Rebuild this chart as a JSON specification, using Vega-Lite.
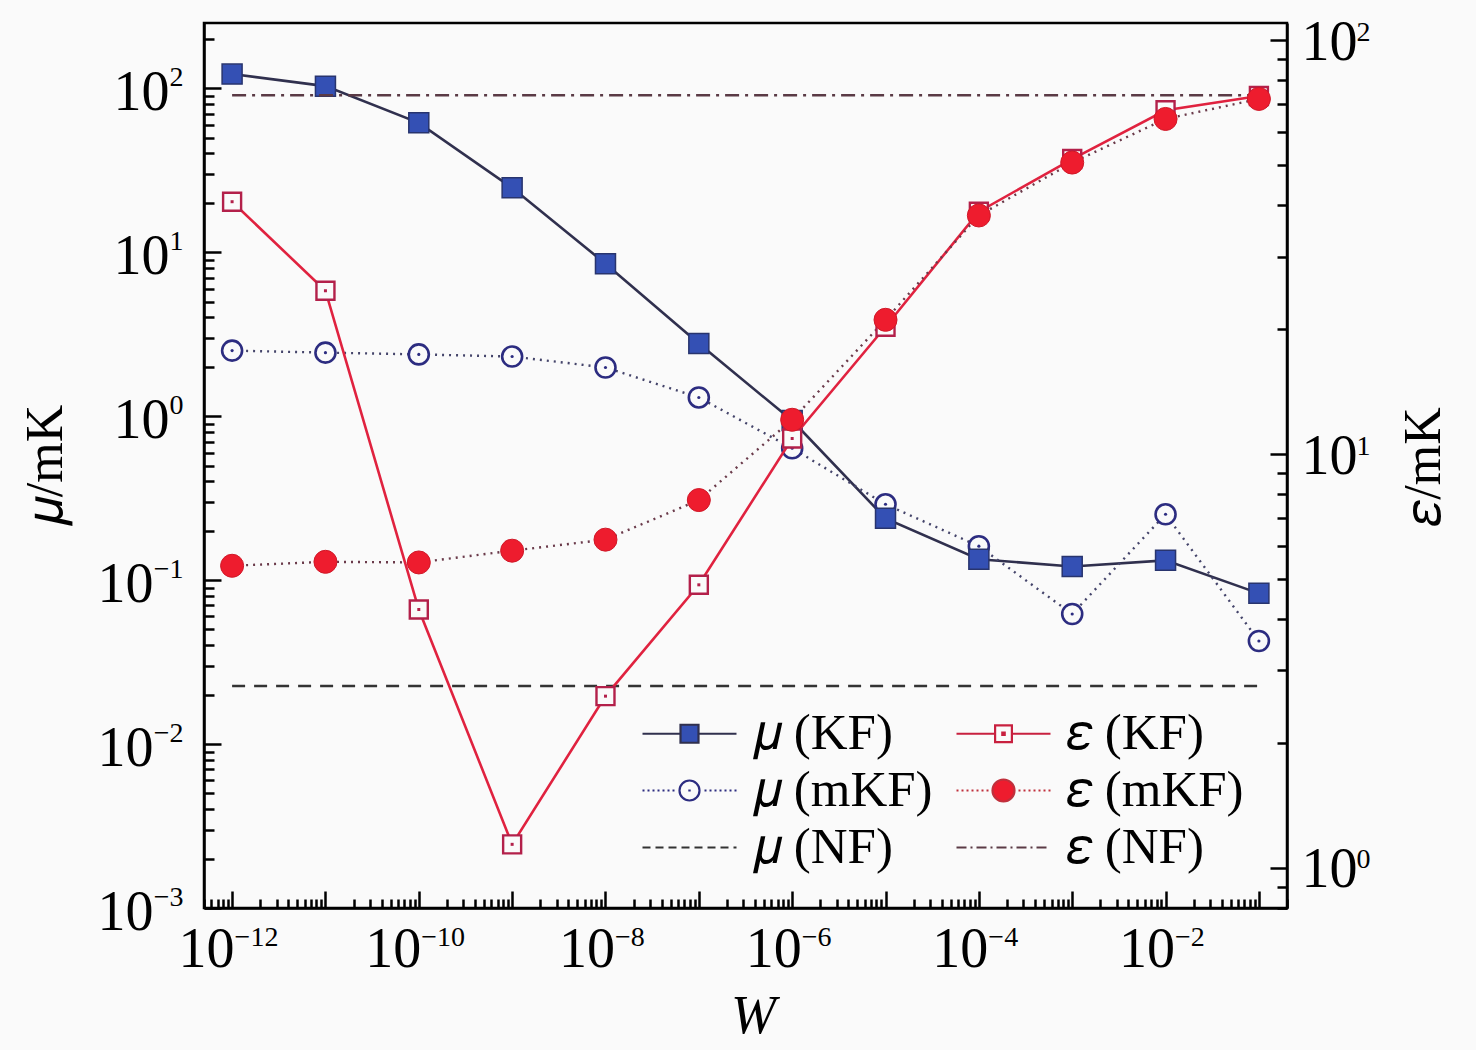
{
  "$schema": "https://vega.github.io/schema/vega-lite/v6.json",
  "description": "mu and epsilon vs W, KF / mKF / NF, dual log axes",
  "autosize": "none",
  "width": 1083,
  "height": 885,
  "padding": {"left": 204, "top": 23, "right": 189, "bottom": 142},
  "background": "#fafafa",
  "config": {
    "view": {"stroke": "black", "strokeWidth": 2.5},
    "font": "Liberation Serif, DejaVu Serif",
    "axis": {
      "grid": false,
      "domainColor": "black",
      "domainWidth": 2.5,
      "tickColor": "black",
      "tickWidth": 2.5,
      "labelFont": "Liberation Serif, DejaVu Serif",
      "labelFontSize": 56,
      "labelColor": "black",
      "labelOverlap": false,
      "labelFlush": false,
      "labelBound": false,
      "titleFont": "Liberation Serif, DejaVu Serif",
      "titleFontSize": 52,
      "titleFontWeight": "normal",
      "titleColor": "black"
    }
  },
  "datasets": {
    "mu": [
      {"W": 1e-12, "s": "KF", "v": 122},
      {"W": 1e-11, "s": "KF", "v": 103},
      {"W": 1e-10, "s": "KF", "v": 61.5},
      {"W": 1e-9, "s": "KF", "v": 24.7},
      {"W": 1e-8, "s": "KF", "v": 8.51},
      {"W": 1e-7, "s": "KF", "v": 2.77},
      {"W": 1e-6, "s": "KF", "v": 0.94},
      {"W": 1e-5, "s": "KF", "v": 0.238},
      {"W": 1e-4, "s": "KF", "v": 0.134},
      {"W": 1e-3, "s": "KF", "v": 0.121},
      {"W": 1e-2, "s": "KF", "v": 0.132},
      {"W": 1e-1, "s": "KF", "v": 0.083},
      {"W": 1e-12, "s": "mKF", "v": 2.51},
      {"W": 1e-11, "s": "mKF", "v": 2.44},
      {"W": 1e-10, "s": "mKF", "v": 2.38},
      {"W": 1e-9, "s": "mKF", "v": 2.31},
      {"W": 1e-8, "s": "mKF", "v": 1.98},
      {"W": 1e-7, "s": "mKF", "v": 1.3},
      {"W": 1e-6, "s": "mKF", "v": 0.637},
      {"W": 1e-5, "s": "mKF", "v": 0.29},
      {"W": 1e-4, "s": "mKF", "v": 0.161},
      {"W": 1e-3, "s": "mKF", "v": 0.0621},
      {"W": 1e-2, "s": "mKF", "v": 0.252},
      {"W": 1e-1, "s": "mKF", "v": 0.0425}
    ],
    "eps": [
      {"W": 1e-12, "s": "KF", "v": 40.7},
      {"W": 1e-11, "s": "KF", "v": 24.8},
      {"W": 1e-10, "s": "KF", "v": 4.21},
      {"W": 1e-9, "s": "KF", "v": 1.14},
      {"W": 1e-8, "s": "KF", "v": 2.6},
      {"W": 1e-7, "s": "KF", "v": 4.83},
      {"W": 1e-6, "s": "KF", "v": 10.9},
      {"W": 1e-5, "s": "KF", "v": 20.3},
      {"W": 1e-4, "s": "KF", "v": 38.5},
      {"W": 1e-3, "s": "KF", "v": 51.6},
      {"W": 1e-2, "s": "KF", "v": 67.7},
      {"W": 1e-1, "s": "KF", "v": 73.3},
      {"W": 1e-12, "s": "mKF", "v": 5.37},
      {"W": 1e-11, "s": "mKF", "v": 5.49},
      {"W": 1e-10, "s": "mKF", "v": 5.47},
      {"W": 1e-9, "s": "mKF", "v": 5.84},
      {"W": 1e-8, "s": "mKF", "v": 6.21},
      {"W": 1e-7, "s": "mKF", "v": 7.74},
      {"W": 1e-6, "s": "mKF", "v": 12.1},
      {"W": 1e-5, "s": "mKF", "v": 21.1},
      {"W": 1e-4, "s": "mKF", "v": 37.7},
      {"W": 1e-3, "s": "mKF", "v": 50.6},
      {"W": 1e-2, "s": "mKF", "v": 64.5},
      {"W": 1e-1, "s": "mKF", "v": 72.1}
    ],
    "nf": [
      {"W": 1e-12, "mu": 0.0226, "eps": 73.6},
      {"W": 1e-1, "mu": 0.0226, "eps": 73.6}
    ],
    "legend": [
      {"lab": "𝜇 (KF)"},
      {"lab": "𝜇 (mKF)"},
      {"lab": "𝜇 (NF)"},
      {"lab": "𝜀 (KF)"},
      {"lab": "𝜀 (mKF)"},
      {"lab": "𝜀 (NF)"}
    ]
  },
  "layer": [
    {
      "encoding": {
        "x": {
          "field": "W",
          "type": "quantitative",
          "scale": {"type": "log", "domain": [5e-13, 0.2], "nice": false},
          "axis": {
            "orient": "bottom",
            "title": "W",
            "titleFontStyle": "italic",
            "titleFontSize": 54,
            "titleX": 549,
            "titleY": 108,
            "titleAlign": "center",
            "titleBaseline": "middle",
            "values": [5e-13, 6e-13, 7e-13, 8e-13, 9e-13,
              1e-12, 2e-12, 3e-12, 4e-12, 5e-12, 6e-12, 7e-12, 8e-12, 9e-12,
              1e-11, 2e-11, 3e-11, 4e-11, 5e-11, 6e-11, 7e-11, 8e-11, 9e-11,
              1e-10, 2e-10, 3e-10, 4e-10, 5e-10, 6e-10, 7e-10, 8e-10, 9e-10,
              1e-9, 2e-9, 3e-9, 4e-9, 5e-9, 6e-9, 7e-9, 8e-9, 9e-9,
              1e-8, 2e-8, 3e-8, 4e-8, 5e-8, 6e-8, 7e-8, 8e-8, 9e-8,
              1e-7, 2e-7, 3e-7, 4e-7, 5e-7, 6e-7, 7e-7, 8e-7, 9e-7,
              1e-6, 2e-6, 3e-6, 4e-6, 5e-6, 6e-6, 7e-6, 8e-6, 9e-6,
              1e-5, 2e-5, 3e-5, 4e-5, 5e-5, 6e-5, 7e-5, 8e-5, 9e-5,
              1e-4, 2e-4, 3e-4, 4e-4, 5e-4, 6e-4, 7e-4, 8e-4, 9e-4,
              1e-3, 2e-3, 3e-3, 4e-3, 5e-3, 6e-3, 7e-3, 8e-3, 9e-3,
              1e-2, 2e-2, 3e-2, 4e-2, 5e-2, 6e-2, 7e-2, 8e-2, 9e-2,
              1e-1, 2e-1],
            "labelExpr": "abs(log(datum.value)/LN10-round(log(datum.value)/LN10))<0.001 && round(log(datum.value)/LN10)%2==0 ? '10' : ''",
            "labelAlign": "right",
            "labelOffset": {"condition": {"test": "datum.value < 5e-10", "value": 2}, "value": 9},
            "tickSize": {"condition": {"test": "abs(log(datum.value)/LN10-round(log(datum.value)/LN10))<0.001", "value": -17}, "value": -9},
            "labelPadding": 31
          }
        },
        "y": {
          "field": "v",
          "type": "quantitative",
          "scale": {"type": "log", "domain": [0.001, 250], "nice": false},
          "axis": null
        }
      },
      "resolve": {"axis": {"y": "independent"}},
      "layer": [
        {
          "data": {"name": "mu"},
          "transform": [{"filter": "datum.s == 'KF'"}],
          "mark": {"type": "line", "color": "#30304e", "strokeWidth": 2.6},
          "encoding": {
            "y": {
              "field": "v",
              "type": "quantitative",
              "axis": {
                "orient": "left",
                "title": "𝜇/mK",
                "titleAngle": 270,
                "titleX": -159,
                "titleY": 442,
                "titleAlign": "center",
                "titleBaseline": "middle",
                "values": [0.001, 0.002, 0.003, 0.004, 0.005, 0.006, 0.007, 0.008, 0.009,
                  0.01, 0.02, 0.03, 0.04, 0.05, 0.06, 0.07, 0.08, 0.09,
                  0.1, 0.2, 0.3, 0.4, 0.5, 0.6, 0.7, 0.8, 0.9,
                  1, 2, 3, 4, 5, 6, 7, 8, 9,
                  10, 20, 30, 40, 50, 60, 70, 80, 90,
                  100, 200],
                "labelExpr": "abs(log(datum.value)/LN10-round(log(datum.value)/LN10))<0.001 ? '10' : ''",
                "tickSize": {"condition": {"test": "abs(log(datum.value)/LN10-round(log(datum.value)/LN10))<0.001", "value": -17}, "value": -10},
                "labelPadding": {"condition": {"test": "datum.value < 0.5", "value": 68}, "value": 52},
                "labelOffset": 4
              }
            }
          }
        },
        {
          "data": {"name": "mu"},
          "transform": [{"filter": "datum.s == 'mKF'"}],
          "mark": {"type": "line", "color": "#44446a", "strokeWidth": 2.4, "strokeDash": [2, 5]},
          "encoding": {
            "y": {
              "field": "v",
              "type": "quantitative",
              "axis": {
                "orient": "left",
                "title": null,
                "domain": false,
                "ticks": false,
                "tickSize": 0,
                "values": [0.001, 0.01, 0.1, 1, 10, 100],
                "labelExpr": "['−3','−2','−1','0','1','2'][round(log(datum.value)/LN10)+3]",
                "labelFontSize": 28,
                "labelAlign": "right",
                "labelPadding": 21,
                "labelOffset": -11
              }
            }
          }
        },
        {
          "data": {"name": "nf"},
          "mark": {"type": "line", "color": "#333333", "strokeWidth": 2.4, "strokeDash": [13, 9]},
          "encoding": {"y": {"field": "mu", "type": "quantitative", "axis": null}}
        },
        {
          "data": {"name": "mu"},
          "transform": [{"filter": "datum.s == 'mKF'"}],
          "mark": {"type": "point", "shape": "circle", "size": 400, "filled": true, "fill": "#fafafa", "stroke": "#2c2c80", "strokeWidth": 2.6, "opacity": 1}
        },
        {
          "data": {"name": "mu"},
          "transform": [{"filter": "datum.s == 'mKF'"}],
          "mark": {"type": "point", "shape": "circle", "size": 10, "filled": true, "color": "#2c2c80", "opacity": 1}
        },
        {
          "data": {"name": "mu"},
          "transform": [{"filter": "datum.s == 'KF'"}],
          "mark": {"type": "point", "shape": "square", "size": 400, "filled": true, "fill": "#3450b4", "stroke": "#28346e", "strokeWidth": 1.5, "opacity": 1}
        },
        {
          "data": {"name": "legend"},
          "mark": {"type": "point", "opacity": 0, "filled": true},
          "encoding": {
            "shape": {
              "field": "lab",
              "type": "nominal",
              "scale": {
                "domain": ["𝜇 (KF)", "𝜇 (mKF)", "𝜇 (NF)", "𝜀 (KF)", "𝜀 (mKF)", "𝜀 (NF)"],
                "range": [
                  "M-2.35,0H-0.45M0.45,0H2.35M-0.45,-0.45H0.45V0.45H-0.45Z",
                  "M-2.35,0h0.1M-2.1,0h0.1M-1.85,0h0.1M-1.6,0h0.1M-1.35,0h0.1M-1.1,0h0.1M-0.85,0h0.1M0.75,0h0.1M1,0h0.1M1.25,0h0.1M1.5,0h0.1M1.75,0h0.1M2,0h0.1M2.25,0h0.1M0.5,0A0.5,0.5,0,1,1,-0.5,0A0.5,0.5,0,1,1,0.5,0ZM-0.06,0h0.12",
                  "M-2.35,0h0.4M-1.7,0h0.4M-1.05,0h0.4M-0.4,0h0.4M0.25,0h0.4M0.9,0h0.4M1.55,0h0.4M2.2,0h0.15",
                  "M-2.35,0H-0.42M0.42,0H2.35M-0.42,-0.42H0.42V0.42H-0.42ZM-0.06,-0.06H0.06V0.06H-0.06Z",
                  "M-2.35,0h0.1M-2.1,0h0.1M-1.85,0h0.1M-1.6,0h0.1M-1.35,0h0.1M-1.1,0h0.1M-0.85,0h0.1M0.75,0h0.1M1,0h0.1M1.25,0h0.1M1.5,0h0.1M1.75,0h0.1M2,0h0.1M2.25,0h0.1M0.55,0A0.55,0.55,0,1,1,-0.55,0A0.55,0.55,0,1,1,0.55,0Z",
                  "M-2.35,0h0.5M-1.65,0h0.1M-1.35,0h0.5M-0.65,0h0.1M-0.35,0h0.5M0.35,0h0.1M0.65,0h0.5M1.35,0h0.1M1.65,0h0.5"
                ]
              },
              "legend": {
                "title": null,
                "orient": "none",
                "legendX": 460,
                "legendY": 685,
                "columns": 2,
                "columnPadding": 19,
                "rowPadding": 5,
                "padding": 0,
                "symbolSize": 1600,
                "symbolStrokeWidth": 2.2,
                "symbolOpacity": 1,
                "labelOffset": 38,
                "labelFont": "Liberation Serif, DejaVu Serif",
                "labelFontSize": 51,
                "labelColor": "black",
                "labelLimit": 500,
                "encode": {"symbols": {"update": {"opacity": {"value": 1}}}}
              }
            },
            "fill": {
              "field": "lab",
              "type": "nominal",
              "scale": {
                "domain": ["𝜇 (KF)", "𝜇 (mKF)", "𝜇 (NF)", "𝜀 (KF)", "𝜀 (mKF)", "𝜀 (NF)"],
                "range": ["#3450b4", "#fafafa", "transparent", "#fafafa", "#ee1c2e", "transparent"]
              }
            },
            "stroke": {
              "field": "lab",
              "type": "nominal",
              "scale": {
                "domain": ["𝜇 (KF)", "𝜇 (mKF)", "𝜇 (NF)", "𝜀 (KF)", "𝜀 (mKF)", "𝜀 (NF)"],
                "range": ["#30304e", "#2c2c80", "#333333", "#c8203f", "#c0303c", "#5a3a45"]
              }
            }
          }
        }
      ]
    },
    {
      "encoding": {
        "x": {
          "field": "W",
          "type": "quantitative",
          "axis": {
            "orient": "bottom",
            "title": null,
            "domain": false,
            "ticks": false,
            "tickSize": 0,
            "values": [1e-12, 1e-10, 1e-8, 1e-6, 1e-4, 1e-2],
            "labelExpr": "['−12','','−10','','−8','','−6','','−4','','−2'][round(log(datum.value)/LN10)+12]",
            "labelFontSize": 28,
            "labelAlign": "left",
            "labelOffset": {"condition": {"test": "datum.value < 5e-10", "value": 2}, "value": 9},
            "labelPadding": 15
          }
        },
        "y": {
          "field": "v",
          "type": "quantitative",
          "scale": {"type": "log", "domain": [0.8, 110], "nice": false},
          "axis": null
        }
      },
      "resolve": {"axis": {"y": "independent"}},
      "layer": [
        {
          "data": {"name": "eps"},
          "transform": [{"filter": "datum.s == 'KF'"}],
          "mark": {"type": "line", "color": "#e0223f", "strokeWidth": 2.6},
          "encoding": {
            "y": {
              "field": "v",
              "type": "quantitative",
              "axis": {
                "orient": "right",
                "title": "𝜀/mK",
                "titleAngle": 270,
                "titleX": 136,
                "titleY": 443,
                "titleAlign": "center",
                "titleBaseline": "middle",
                "values": [0.8, 0.9, 1, 2, 3, 4, 5, 6, 7, 8, 9,
                  10, 20, 30, 40, 50, 60, 70, 80, 90, 100],
                "labelExpr": "abs(log(datum.value)/LN10-round(log(datum.value)/LN10))<0.001 ? '10' : ''",
                "tickSize": {"condition": {"test": "abs(log(datum.value)/LN10-round(log(datum.value)/LN10))<0.001", "value": -17}, "value": -10},
                "labelPadding": 31,
                "labelOffset": 2
              }
            }
          }
        },
        {
          "data": {"name": "eps"},
          "transform": [{"filter": "datum.s == 'mKF'"}],
          "mark": {"type": "line", "color": "#6a3a4a", "strokeWidth": 2.4, "strokeDash": [2, 5]},
          "encoding": {
            "y": {
              "field": "v",
              "type": "quantitative",
              "axis": {
                "orient": "right",
                "title": null,
                "domain": false,
                "ticks": false,
                "tickSize": 0,
                "values": [1, 10, 100],
                "labelExpr": "['0','1','2'][round(log(datum.value)/LN10)]",
                "labelFontSize": 28,
                "labelAlign": "left",
                "labelPadding": 69,
                "labelOffset": -8
              }
            }
          }
        },
        {
          "data": {"name": "nf"},
          "mark": {"type": "line", "color": "#5a3a45", "strokeWidth": 2.4, "strokeDash": [14, 6, 3, 6]},
          "encoding": {"y": {"field": "eps", "type": "quantitative", "axis": null}}
        },
        {
          "data": {"name": "eps"},
          "transform": [{"filter": "datum.s == 'KF'"}],
          "mark": {"type": "point", "shape": "square", "size": 324, "filled": true, "fill": "#fafafa", "stroke": "#b3204a", "strokeWidth": 2.4, "opacity": 1}
        },
        {
          "data": {"name": "eps"},
          "transform": [{"filter": "datum.s == 'KF'"}],
          "mark": {"type": "point", "shape": "square", "size": 9, "filled": true, "color": "#b3204a", "opacity": 1}
        },
        {
          "data": {"name": "eps"},
          "transform": [{"filter": "datum.s == 'mKF'"}],
          "mark": {"type": "point", "shape": "circle", "size": 530, "filled": true, "fill": "#ee1c2e", "stroke": "#d01828", "strokeWidth": 1, "opacity": 1}
        }
      ]
    }
  ],
  "resolve": {"scale": {"y": "independent"}, "axis": {"x": "independent", "y": "independent"}}
}
